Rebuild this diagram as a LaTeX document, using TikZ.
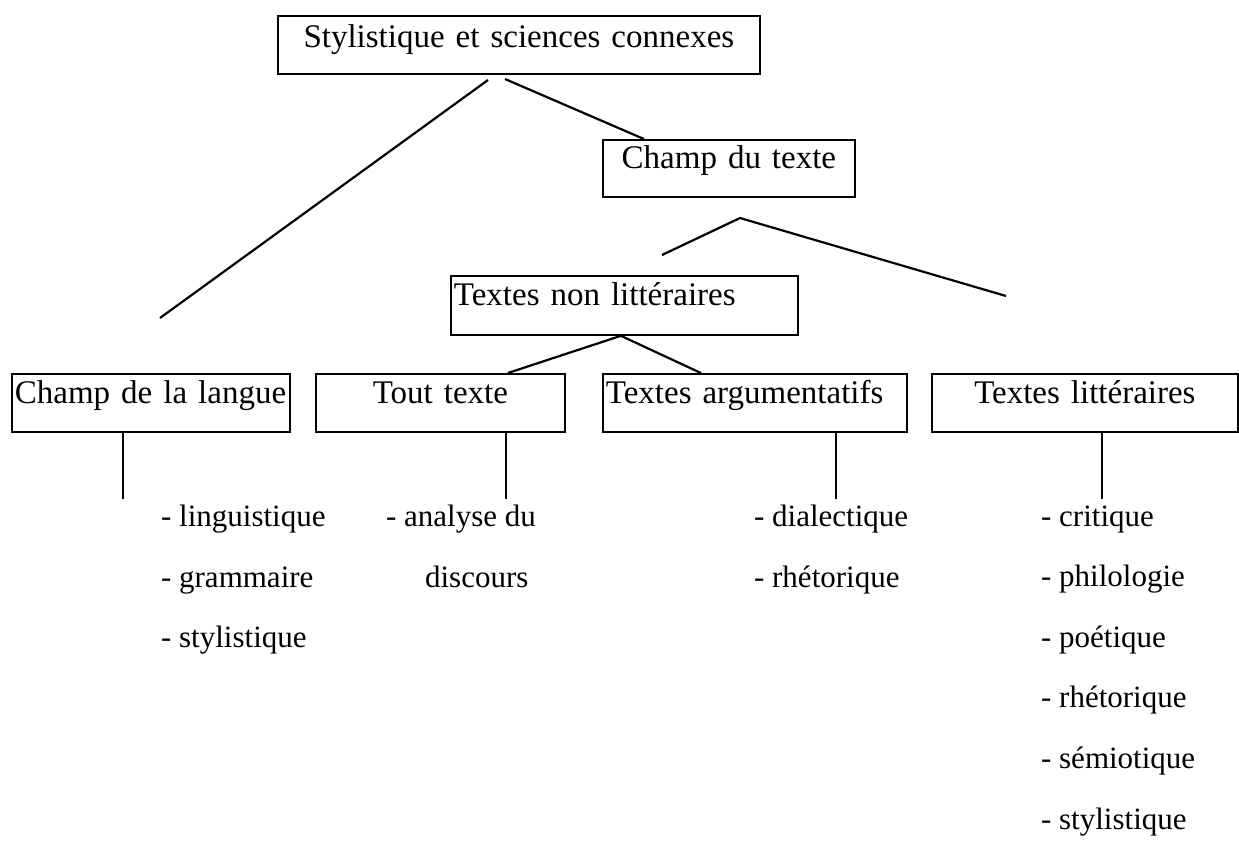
\documentclass[tikz,border=0pt]{standalone}
\usepackage{fontspec}
\setmainfont{Liberation Serif}
\usepackage{tikz}

\begin{document}
\begin{tikzpicture}[x=0.5pt,y=-0.5pt,line width=1.1pt,
		boite/.style={draw,anchor=north west,inner xsep=1.5pt,inner ysep=0pt,
			line width=0.9pt,font=\fontsize{16.5}{19}\selectfont},
		haut/.style={boite,text height=16pt,text depth=13pt},
		bas/.style={boite,text height=15pt,text depth=14pt},
		liste/.style={anchor=base west,inner sep=0pt,font=\fontsize{15.5}{18}\selectfont}]
		\useasboundingbox (0,0) rectangle (1239,852);

		% les cadres
		\node[haut,text width=238pt,align=center] (top) at (277,15) {Stylistique et sciences connexes};
		\node[boite,text height=14.5pt,text depth=14pt,text width=123pt,align=center] (champ) at (602,139) {Champ du texte};
		\node[boite,text height=15pt,text depth=14.5pt,text width=170.5pt,align=left] (nonlit) at (450,275) {Textes non littéraires};
		\node[bas,text width=136pt,align=left] (langue) at (11,373) {Champ de la langue};
		\node[bas,text width=121.5pt,align=center] (tout) at (315,373) {Tout texte};
		\node[bas,text width=149pt,align=left] (argu) at (602,373) {Textes argumentatifs};
		\node[bas,text width=150pt,align=center] (litt) at (931,373) {Textes littéraires};

		% les branches
		\coordinate (t1) at (488,80);
		\coordinate (t2) at (160,318);
		\coordinate (t3) at (505,79);
		\coordinate (c1) at (740,218);
		\coordinate (c2) at (662,255);
		\coordinate (c3) at (1006,296);
		\draw (t1) -- (t2);
		\draw (t3) -- ([xshift=-42.5pt]champ.north);
		\draw (c2) -- (c1) -- (c3);
		\draw ([xshift=-1.75pt]nonlit.south) -- ([xshift=33.75pt]tout.north);
		\draw ([xshift=-1.75pt]nonlit.south) -- ([xshift=-27pt]argu.north);

		\draw ([xshift=-14pt]langue.south) -- ++(0,66);
		\draw ([xshift=32.75pt]tout.south) -- ++(0,66);
		\draw ([xshift=40.5pt]argu.south) -- ++(0,66);
		\draw ([xshift=8.5pt]litt.south) -- ++(0,66);

		% les disciplines
		\node[liste] (l1) at (160,526) {- linguistique};
		\node[liste] (l2) at (160,587) {- grammaire};
		\node[liste] (l3) at (160,647) {- stylistique};
		\node[liste] (d1) at (385,526) {- analyse du};
		\node[liste] (d2) at (424,587) {discours};
		\node[liste] (a1) at (753,526) {- dialectique};
		\node[liste] (a2) at (753,587) {- rhétorique};
		\foreach \mot [count=\i from 0] in {critique,philologie,poétique,rhétorique,sémiotique,stylistique}
			\node[liste] (p\i) at (1040,526+60.6*\i) {- \mot};
	\end{tikzpicture}
\end{document}
